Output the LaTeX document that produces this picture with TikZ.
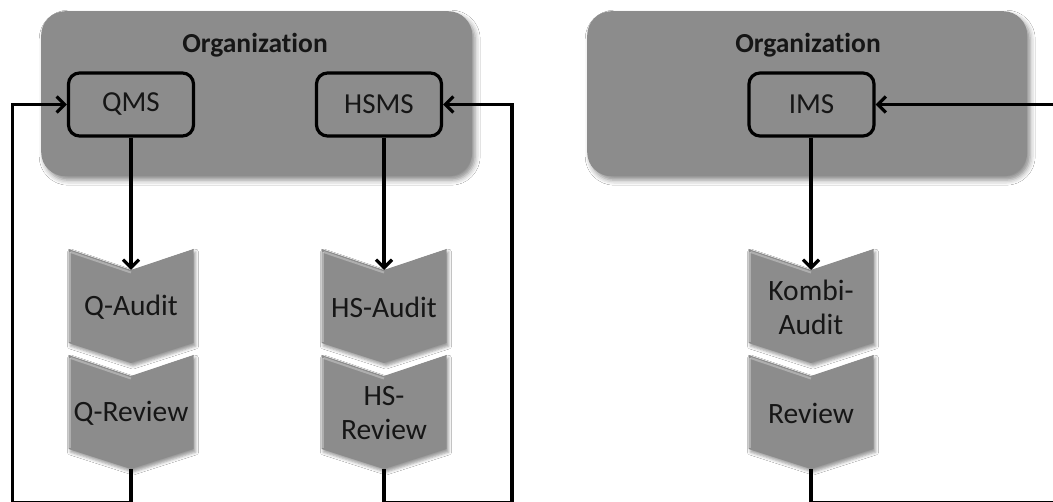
\documentclass[tikz,border=0pt]{standalone}
\usepackage{fontspec}
\setmainfont{Carlito}[Ligatures=NoCommon]
\usetikzlibrary{arrows.meta,shadows.blur,calc}

\definecolor{panel}{RGB}{140,140,140}
\definecolor{ink}{RGB}{22,22,22}

\tikzset{
  orgbox/.style={fill=panel, rounded corners=24pt, inner sep=0pt,
    blur shadow={shadow xshift=3pt, shadow yshift=-4pt, shadow blur radius=5pt, shadow opacity=45}},
  orgtitle/.style={font=\bfseries\fontsize{27.5}{32}\selectfont, text=ink},
  sysbox/.style={draw=black, line width=3.2pt, rounded corners=11pt,
    minimum width=125pt, minimum height=63pt, inner sep=0pt,
    font=\fontsize{29}{33}\selectfont, text=ink},
  chevfill/.style={fill=panel,
    blur shadow={shadow xshift=2pt, shadow yshift=-3pt, shadow blur radius=3pt, shadow opacity=40}},
  chevedge/.style={draw=white, draw opacity=0.3, line width=2pt},
  chevlabel/.style={font=\fontsize{29.5}{34}\selectfont, align=center, text=ink, inner sep=0pt},
  link/.style={line width=3.2pt, draw=black, -{Straight Barb[length=8pt,width=16pt]}},
}

% chevron step: name, centre x, top y, label
\newcommand\chevstep[4]{%
  \fill[chevfill] (#2-62.5,#3) -- (#2,#3+21) -- (#2+62.5,#3) -- (#2+62.5,#3+94)
    -- (#2,#3+114) -- (#2-62.5,#3+94) -- cycle;
  \draw[chevedge] (#2-61.5,#3+3) -- (#2-61.5,#3+93);
  \draw[chevedge] (#2-60.5,#3+3) -- (#2,#3+23.5);
  \coordinate (#1-in) at (#2,#3+21);
  \coordinate (#1-out) at (#2,#3+114);
  \node[chevlabel] (#1) at (#2,#3+58) {#4};}

\begin{document}
\begin{tikzpicture}[x=1pt, y=-1pt]
\useasboundingbox (0,0) rectangle (1053,502);
\fill[white] (0,0) rectangle (1053,502);
\begin{scope}
\clip (0,0) rectangle (1053,502);

% left organisation: two separate systems
\node[orgbox, minimum width=431pt, minimum height=165pt, anchor=north west] (org1) at (41,11) {};
\node[orgtitle] (t1) at (255,45) {Organization};
\node[sysbox] (qms) at (131,104.5) {QMS};
\node[sysbox] (hsms) at (379,104.5) {HSMS};

\chevstep{qa}{131}{249}{Q-Audit}
\chevstep{qr}{131}{355}{Q-Review}
\chevstep{ha}{384}{249}{HS-Audit}
\chevstep{hr}{384}{355}{HS-\\Review}

\draw[link] (qms.south -| qa-in) -- (qa-in);
\draw[link] (hsms.south -| ha-in) -- (ha-in);

\coordinate (lq) at (12.5,502.3);
\coordinate (rh) at (512,502.3);
\draw[link] (qr-out) |- (lq) |- (qms.west);
\draw[link] (hr-out) |- (rh) |- (hsms.east);

% right organisation: one integrated system
\node[orgbox, minimum width=440pt, minimum height=165pt, anchor=north west] (org2) at (587,11) {};
\node[orgtitle] (t2) at (808,45) {Organization};
\node[sysbox] (ims) at (811.5,104.5) {IMS};

\chevstep{ka}{811}{249}{Kombi-\\Audit}
\chevstep{kr}{811}{355}{Review}

\draw[link] (ims.south -| ka-in) -- (ka-in);
\coordinate (ri) at (1070,502.3);
\draw[link] (kr-out) |- (ri) |- (ims.east);
\end{scope}
\end{tikzpicture}
\end{document}
